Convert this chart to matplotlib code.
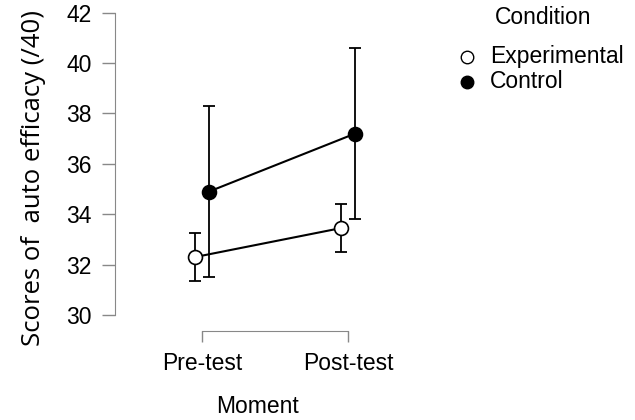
import numpy as np
import matplotlib.pyplot as plt
from matplotlib.lines import Line2D

# Datos
moments = ['Pre-test', 'Post-test']
conditions = ['Experimental', 'Control']
cond_faces = ['white', 'black']
exp_mean = [32.3, 33.45]
exp_low = [31.35, 32.5]
exp_high = [33.25, 34.4]
ctrl_mean = [34.9, 37.2]
ctrl_low = [31.5, 33.8]
ctrl_high = [38.3, 40.6]

plt.rcParams['font.family'] = ['Liberation Sans', 'DejaVu Sans']

fig = plt.figure(figsize=(6.35, 4.2), dpi=100)
ax = fig.add_axes([114.7 / 635, 1 - 315 / 420, 285.3 / 635, 302.3 / 420])

x = np.arange(len(moments))
dodge = 0.048

series = [
    (exp_mean, exp_low, exp_high, cond_faces[0], -dodge),
    (ctrl_mean, ctrl_low, ctrl_high, cond_faces[1], dodge),
]
for mean, low, high, face, off in series:
    mean = np.array(mean)
    yerr = [mean - np.array(low), np.array(high) - mean]
    ax.errorbar(x + off, mean, yerr=yerr, fmt='none', ecolor='black',
                elinewidth=1.3, capsize=4.5, capthick=1.3, zorder=2)
    ax.plot(x + off, mean, color='black', linewidth=1.5, zorder=3)
    ax.plot(x + off, mean, linestyle='none', marker='o', markersize=10,
            markerfacecolor=face, markeredgecolor='black', markeredgewidth=1.2,
            zorder=4)

ax.set_xlim(-0.598, 1.356)
ax.set_ylim(30, 42)
ax.set_yticks([30, 32, 34, 36, 38, 40, 42])
ax.set_xticks(x)
ax.set_xticklabels(moments)

for s in ['top', 'right']:
    ax.spines[s].set_visible(False)
ax.spines['left'].set_color('#888888')
ax.spines['left'].set_bounds(30, 42)
ax.spines['bottom'].set_color('#888888')
ax.spines['bottom'].set_position(('outward', 11.5))
ax.spines['bottom'].set_bounds(0, 1)
ax.tick_params(axis='y', length=9.4, width=1, color='#888888', pad=7, labelsize=16.5)
ax.tick_params(axis='x', length=8, width=1, color='#888888', pad=7.5, labelsize=16.5)

ax.set_xlabel('Moment', fontsize=16.5, labelpad=14)
fig.text(34 / 635, 1 - 178 / 420, 'Scores of  auto efficacy (/40)', rotation=90,
         ha='center', va='center', fontsize=18.5, family=['Open Sans', 'DejaVu Sans'])

# Leyenda dibujada a mano
fig.text(543 / 635, 1 - 18 / 420, 'Condition', ha='center', va='center', fontsize=16.5)
for i, (name, face) in enumerate(zip(conditions, cond_faces)):
    yy = 1 - (57 + 25 * i) / 420
    fig.add_artist(Line2D([467 / 635], [yy], transform=fig.transFigure,
                          linestyle='none', marker='o', markersize=9,
                          markerfacecolor=face, markeredgecolor='black',
                          markeredgewidth=1.0))
    fig.text(490 / 635, yy, name, ha='left', va='center', fontsize=16.5)

fig.savefig('out.png', dpi=100)
